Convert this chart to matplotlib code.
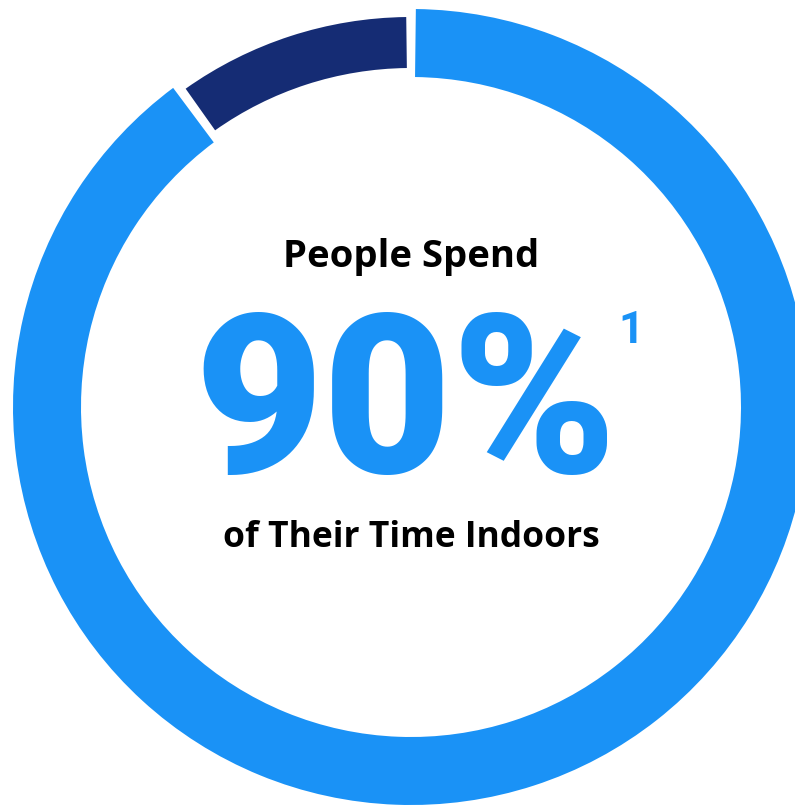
import numpy as np
import matplotlib
matplotlib.use("Agg")
import matplotlib.pyplot as plt
from matplotlib.patches import Wedge

# share of time, starting at 12 o'clock going counterclockwise
labels = ["Outdoors", "Indoors"]
shares = [10, 90]
colors = ["#152c74", "#1a92f6"]

headline = "90%"
footnote = "1"
line_top = "People Spend"
line_bottom = "of Their Time Indoors"

W, H = 795, 807
fig = plt.figure(figsize=(W / 100, H / 100), dpi=100)
ax = fig.add_axes([0, 0, 1, 1])
ax.set_xlim(0, W)
ax.set_ylim(0, H)
ax.set_aspect("equal")
ax.axis("off")

cx, cy = 411, H - 407
# (outer radius, ring width) per slice
rings = {"Outdoors": (390, 51), "Indoors": (398, 68)}
gap = 1.4  # degrees

start = 90.0
for lab, v, c in zip(labels, shares, colors):
    sweep = 360.0 * v / sum(shares)
    r, w = rings[lab]
    ax.add_patch(Wedge((cx, cy), r, start + gap / 2, start + sweep - gap / 2,
                       width=w, facecolor=c, edgecolor="none"))
    start += sweep

fam = ["Roboto", "DejaVu Sans"]
fam2 = ["Open Sans", "DejaVu Sans"]
ax.text(411, H - 267, line_top, ha="center", va="baseline", fontsize=27.5,
        fontweight="bold", family=fam2, color="black")
big = ax.text(406, H - 473, headline, ha="center", va="baseline", fontsize=160,
              fontweight="black", family=fam, color=colors[1])
ax.text(411.5, H - 547, line_bottom, ha="center", va="baseline", fontsize=25.5,
        fontweight="bold", family=fam2, color="black")

# footnote mark just right of the headline's box
fig.canvas.draw()
bb = big.get_window_extent().transformed(ax.transData.inverted())
ax.text(bb.x1 + 1, H - 343, footnote, ha="left", va="baseline", fontsize=32,
        fontweight="bold", family=fam, color=colors[1])

fig.savefig("out.png", dpi=100)
